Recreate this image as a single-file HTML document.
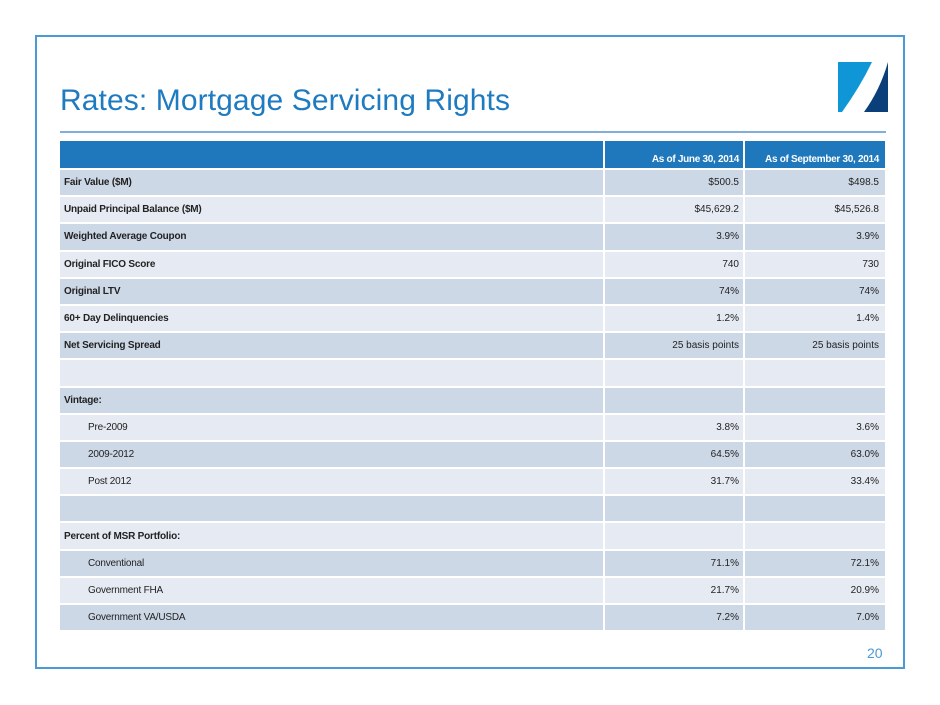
<!DOCTYPE html>
<html><head><meta charset="utf-8"><style>
body{margin:0;width:940px;height:705px;background:#fff;position:relative;font-family:"Liberation Sans",sans-serif;overflow:hidden}
.frame{position:absolute;left:35px;top:35px;width:866px;height:630px;border:2px solid #4a9ad6}
.title{position:absolute;left:60px;top:84px;font-size:30px;color:#1f7bc0;letter-spacing:0.1px;white-space:nowrap}
.rule{position:absolute;left:60px;top:131px;width:826px;height:2px;background:#7fb0dc}
table{position:absolute;left:58px;top:139px;border-collapse:separate;border-spacing:2px;}
td{height:25.2px;padding:0 4px;font-size:10px;color:#222;box-sizing:border-box}
td.l{width:543px;font-weight:bold;letter-spacing:-0.2px}
td.i{padding-left:28px;font-weight:normal}
td.v{width:138px;text-align:right}
td.v2{width:140px;text-align:right;padding-right:6px}
tr.h td{background:#1f78bb;color:#fff;height:27px;font-weight:bold;vertical-align:bottom;padding-bottom:3px;letter-spacing:-0.3px}
tr.d td{background:#cdd8e7}
tr.w td{background:#e6ebf3}
.pg{position:absolute;left:867px;top:645px;font-size:14px;color:#4a9ad6}
</style></head><body>
<div class="frame"></div>
<div class="title">Rates: Mortgage Servicing Rights</div>
<svg style="position:absolute;left:838px;top:62px" width="50" height="50"><path d="M0,0 L34,0 Q22,25 4,50 L0,50 Z" fill="#0f96d6"/><path d="M50,0 L50,50 L26,50 Q42,28 50,0 Z" fill="#0a3f7a"/></svg>
<div class="rule"></div>
<table>
<tr class="h"><td class="l"></td><td class="v">As of June 30, 2014</td><td class="v2">As of September 30, 2014</td></tr>
<tr class="d"><td class="l">Fair Value ($M)</td><td class="v">$500.5</td><td class="v2">$498.5</td></tr>
<tr class="w"><td class="l">Unpaid Principal Balance ($M)</td><td class="v">$45,629.2</td><td class="v2">$45,526.8</td></tr>
<tr class="d"><td class="l">Weighted Average Coupon</td><td class="v">3.9%</td><td class="v2">3.9%</td></tr>
<tr class="w"><td class="l">Original FICO Score</td><td class="v">740</td><td class="v2">730</td></tr>
<tr class="d"><td class="l">Original LTV</td><td class="v">74%</td><td class="v2">74%</td></tr>
<tr class="w"><td class="l">60+ Day Delinquencies</td><td class="v">1.2%</td><td class="v2">1.4%</td></tr>
<tr class="d"><td class="l">Net Servicing Spread</td><td class="v">25 basis points</td><td class="v2">25 basis points</td></tr>
<tr class="w"><td class="l"></td><td class="v"></td><td class="v2"></td></tr>
<tr class="d"><td class="l">Vintage:</td><td class="v"></td><td class="v2"></td></tr>
<tr class="w"><td class="l i">Pre-2009</td><td class="v">3.8%</td><td class="v2">3.6%</td></tr>
<tr class="d"><td class="l i">2009-2012</td><td class="v">64.5%</td><td class="v2">63.0%</td></tr>
<tr class="w"><td class="l i">Post 2012</td><td class="v">31.7%</td><td class="v2">33.4%</td></tr>
<tr class="d"><td class="l"></td><td class="v"></td><td class="v2"></td></tr>
<tr class="w"><td class="l">Percent of MSR Portfolio:</td><td class="v"></td><td class="v2"></td></tr>
<tr class="d"><td class="l i">Conventional</td><td class="v">71.1%</td><td class="v2">72.1%</td></tr>
<tr class="w"><td class="l i">Government FHA</td><td class="v">21.7%</td><td class="v2">20.9%</td></tr>
<tr class="d"><td class="l i">Government VA/USDA</td><td class="v">7.2%</td><td class="v2">7.0%</td></tr>
</table>
<div class="pg">20</div>
</body></html>
